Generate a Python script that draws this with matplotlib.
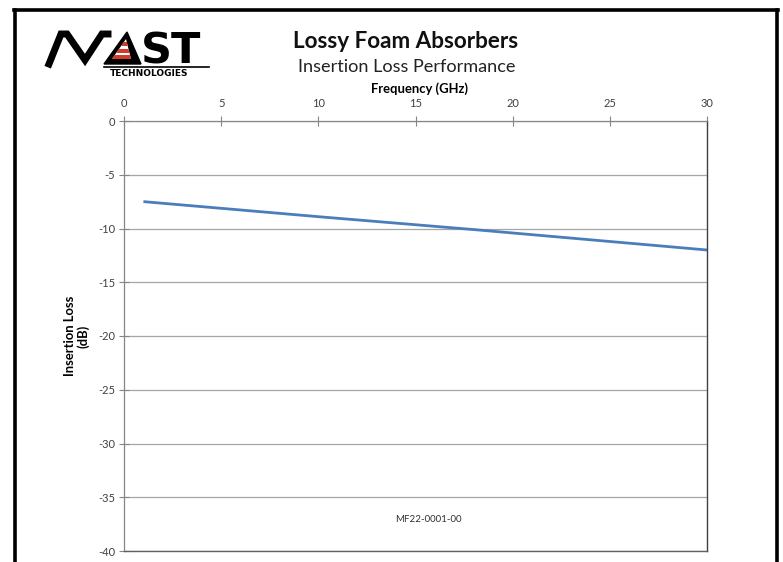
import matplotlib.pyplot as plt
from matplotlib.lines import Line2D
from matplotlib.patches import Polygon

# data
freq_ghz = [1, 10, 18, 30]
insertion_loss_db = [-7.5, -8.9, -10.1, -12.0]
x_ticks = [0, 5, 10, 15, 20, 25, 30]
y_ticks = [0, -5, -10, -15, -20, -25, -30, -35, -40]

plt.rcParams['font.family'] = ['Lato', 'DejaVu Sans']
plt.rcParams['axes.unicode_minus'] = False

W, H = 783, 562


def fx(px):
    return px / W


def fy(py):
    return 1 - py / H


fig = plt.figure(figsize=(7.83, 5.62), dpi=100)
ax = fig.add_axes([fx(124), fy(551), (707 - 124) / W, (551 - 121) / H])

ax.plot(freq_ghz, insertion_loss_db, color='#4A7EBB', lw=2.0, solid_capstyle='butt')

ax.set_xlim(0, 30)
ax.set_ylim(-40, 0)
ax.set_xticks(x_ticks)
ax.set_yticks(y_ticks)
ax.xaxis.tick_top()
ax.tick_params(axis='x', direction='inout', length=7, width=0.8, color='#868686',
               labelsize=8, labelcolor='#404040', pad=5)
ax.tick_params(axis='y', direction='inout', length=7, width=0.8, color='#868686',
               labelsize=8, labelcolor='#404040', pad=3)
ax.yaxis.grid(True, color='#A6A6A6', lw=0.9)
ax.set_axisbelow(True)
for side in ['top', 'left']:
    ax.spines[side].set_color('#868686')
    ax.spines[side].set_linewidth(0.9)
ax.spines['bottom'].set_color('#606060')
ax.spines['bottom'].set_linewidth(1.0)
ax.spines['right'].set_color('#404040')
ax.spines['right'].set_linewidth(1.0)

fig.text(fx(419), fy(89), 'Frequency (GHz)', fontsize=9.4, fontweight='bold',
         ha='center', va='center', color='black')
fig.text(fx(77), fy(336), 'Insertion Loss\n(dB)', fontsize=9.4, fontweight='bold',
         ha='center', va='center', rotation=90, multialignment='center', color='black',
         linespacing=1.1)
fig.text(fx(428), fy(520), 'MF22-0001-00', fontsize=7, color='#303030',
         ha='center', va='center')

# titles
fig.text(fx(406), fy(41), 'Lossy Foam Absorbers', fontsize=16.2,
         fontweight='bold', ha='center', va='center', color='#111111')
fig.text(fx(407), fy(67), 'Insertion Loss Performance', fontsize=13.1,
         ha='center', va='center', color='#222222')

# page frame
for xs, ys in [([14.5, 14.5], [9.5, H]), ([776.5, 776.5], [9.5, H]), ([13.5, 777.5], [9.5, 9.5])]:
    fig.add_artist(Line2D([fx(v) for v in xs], [fy(v) for v in ys], color='black', lw=2.6,
                          transform=fig.transFigure))

# logo
fig.add_artist(Line2D([fx(49), fx(61), fx(67), fx(85), fx(102), fx(108)],
                      [fy(64), fy(34), fy(34), fy(60), fy(34), fy(34)],
                      color='black', lw=5, solid_joinstyle='miter',
                      transform=fig.transFigure))
fig.add_artist(Polygon([[fx(104), fy(64)], [fx(127), fy(32)], [fx(141), fy(64)]],
                       closed=True, facecolor='black', edgecolor='black',
                       transform=fig.transFigure))
fig.add_artist(Polygon([[fx(112), fy(59)], [fx(126), fy(39)], [fx(131), fy(59)]],
                       closed=True, facecolor='white', edgecolor='none',
                       transform=fig.transFigure))
for y0, y1 in [(42, 46), (49, 53), (55, 59)]:
    xl0 = 126 - (y0 - 39) * 14 / 20
    xl1 = 126 - (y1 - 39) * 14 / 20
    xr0 = 126 + (y0 - 39) * 5 / 20
    xr1 = 126 + (y1 - 39) * 5 / 20
    fig.add_artist(Polygon([[fx(xl0), fy(y0)], [fx(xr0), fy(y0)], [fx(xr1), fy(y1)],
                            [fx(xl1), fy(y1)]],
                           closed=True, facecolor='#D23A2A', edgecolor='none',
                           transform=fig.transFigure))
fig.text(fx(141), fy(64), 'ST', fontsize=31, family='DejaVu Sans', fontweight='bold',
         ha='left', va='baseline', color='black')
fig.add_artist(Line2D([fx(104), fx(209)], [fy(66.5), fy(66.5)], color='black', lw=1.2,
                      transform=fig.transFigure))
fig.text(fx(110), fy(75.5), 'TECHNOLOGIES', fontsize=6.5, family='DejaVu Sans',
         fontweight='bold', ha='left', va='baseline', color='black')

fig.savefig('out.png', dpi=100)
